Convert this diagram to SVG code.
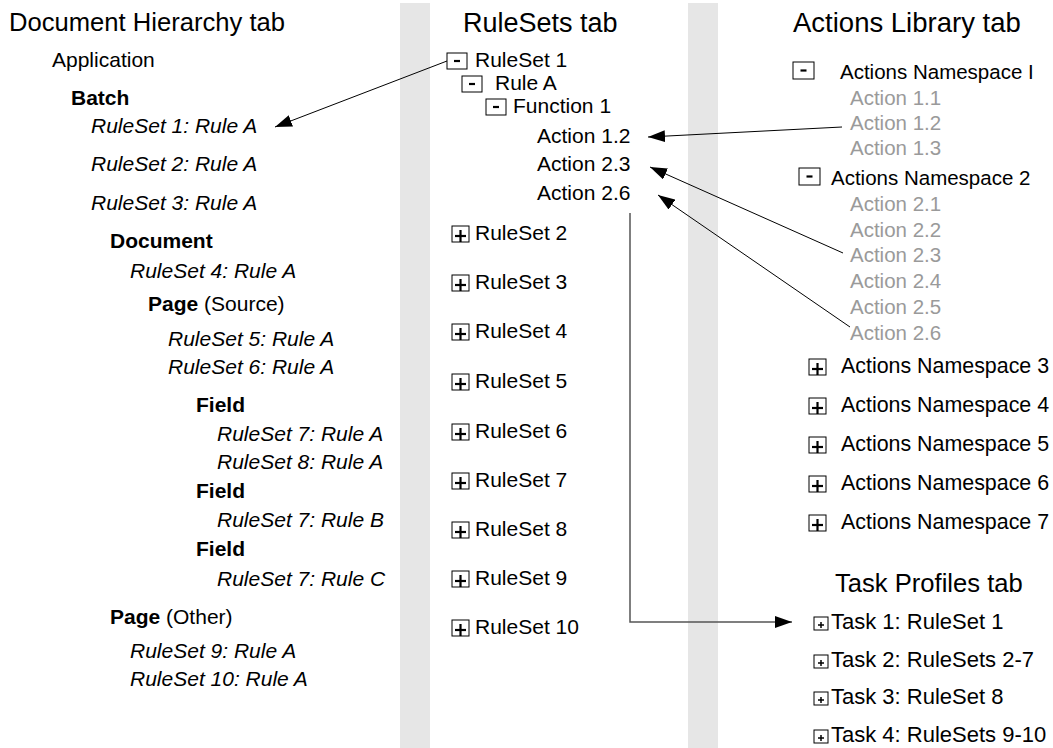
<svg xmlns="http://www.w3.org/2000/svg" width="1053" height="748" viewBox="0 0 1053 748">
<style>
text{font-family:"Liberation Sans",Arial,sans-serif;font-size:21px;fill:#000}
.title{font-size:25.6px}
.it{font-style:italic}
.b{font-weight:bold}
.sm{font-size:20.5px}
.task{font-size:22px}
.gray{fill:#9a9a9a;font-size:20.5px}
.box{fill:#fff;stroke:#000;stroke-width:1}
.sign{stroke:#000;stroke-width:2.2;fill:none}
.conn{stroke:#000;stroke-width:1;fill:none}
.conn2{stroke:#555;stroke-width:1.5;fill:none}
.band{fill:#e6e6e6}
</style>
<defs>
<marker id="ah" markerUnits="userSpaceOnUse" markerWidth="18" markerHeight="12" viewBox="0 0 18 12" refX="17" refY="6" orient="auto">
<path d="M0,0 L17,6 L0,12 Z" fill="#000"/>
</marker>
<g id="minus"><rect class="box" x="0" y="0" width="20" height="16"/><line class="sign" x1="7" y1="8" x2="13" y2="8"/></g>
<g id="minusW"><rect class="box" x="0" y="0" width="21" height="17"/><line class="sign" x1="7.5" y1="8.5" x2="13.5" y2="8.5"/></g>
<g id="plus"><rect class="box" x="0" y="0" width="17" height="16"/><line class="sign" x1="3" y1="10" x2="14" y2="10"/><line class="sign" x1="8.5" y1="4" x2="8.5" y2="16"/></g>
<g id="plusS"><rect class="box" x="0" y="0" width="14" height="13"/><line stroke="#000" stroke-width="1.5" x1="4" y1="8" x2="10" y2="8"/><line stroke="#000" stroke-width="1.5" x1="7" y1="5" x2="7" y2="11"/></g>
</defs>
<rect width="1053" height="748" fill="#fff"/>
<rect class="band" x="400" y="3" width="30" height="745"/>
<rect class="band" x="688" y="3" width="30" height="745"/>

<g id="doc-hierarchy">
<text class="title" x="9" y="31">Document Hierarchy tab</text>
<text x="52" y="67">Application</text>
<text class="b" x="71" y="105">Batch</text>
<text class="it" x="91" y="133">RuleSet 1: Rule A</text>
<text class="it" x="91" y="171">RuleSet 2: Rule A</text>
<text class="it" x="91" y="210">RuleSet 3: Rule A</text>
<text class="b" x="110" y="248">Document</text>
<text class="it" x="130" y="278">RuleSet 4: Rule A</text>
<text x="148" y="311"><tspan class="b">Page</tspan> (Source)</text>
<text class="it" x="168" y="346">RuleSet 5: Rule A</text>
<text class="it" x="168" y="374">RuleSet 6: Rule A</text>
<text class="b" x="196" y="412">Field</text>
<text class="it" x="217" y="441">RuleSet 7: Rule A</text>
<text class="it" x="217" y="469">RuleSet 8: Rule A</text>
<text class="b" x="196" y="498">Field</text>
<text class="it" x="217" y="527">RuleSet 7: Rule B</text>
<text class="b" x="196" y="556">Field</text>
<text class="it" x="217" y="586">RuleSet 7: Rule C</text>
<text x="110" y="624"><tspan class="b">Page</tspan> (Other)</text>
<text class="it" x="130" y="658">RuleSet 9: Rule A</text>
<text class="it" x="130" y="686">RuleSet 10: Rule A</text>
</g>

<g id="rulesets">
<text class="title" x="463" y="32" style="font-size:27px">RuleSets tab</text>
<use href="#minus" x="447" y="53"/><text x="475" y="67">RuleSet 1</text>
<use href="#minus" x="462" y="76"/><text x="495" y="90">Rule A</text>
<use href="#minus" x="486" y="99"/><text x="513" y="113">Function 1</text>
<text x="537" y="143">Action 1.2</text>
<text x="537" y="171">Action 2.3</text>
<text x="537" y="200">Action 2.6</text>
<use href="#plus" x="452" y="226"/><text x="475" y="240">RuleSet 2</text>
<use href="#plus" x="452" y="275"/><text x="475" y="289">RuleSet 3</text>
<use href="#plus" x="452" y="324"/><text x="475" y="338">RuleSet 4</text>
<use href="#plus" x="452" y="374"/><text x="475" y="388">RuleSet 5</text>
<use href="#plus" x="452" y="424"/><text x="475" y="438">RuleSet 6</text>
<use href="#plus" x="452" y="473"/><text x="475" y="487">RuleSet 7</text>
<use href="#plus" x="452" y="522"/><text x="475" y="536">RuleSet 8</text>
<use href="#plus" x="452" y="571"/><text x="475" y="585">RuleSet 9</text>
<use href="#plus" x="452" y="620"/><text x="475" y="634">RuleSet 10</text>
</g>

<g id="actions-library">
<text class="title" x="793" y="32" style="font-size:27.5px">Actions Library tab</text>
<use href="#minusW" x="793" y="62"/><text class="sm" x="840" y="79">Actions Namespace I</text>
<text class="gray" x="850" y="105">Action 1.1</text>
<text class="gray" x="850" y="130">Action 1.2</text>
<text class="gray" x="850" y="155">Action 1.3</text>
<use href="#minusW" x="799" y="168"/><text class="sm" x="831" y="185">Actions Namespace 2</text>
<text class="gray" x="850" y="211">Action 2.1</text>
<text class="gray" x="850" y="237">Action 2.2</text>
<text class="gray" x="850" y="262">Action 2.3</text>
<text class="gray" x="850" y="288">Action 2.4</text>
<text class="gray" x="850" y="314">Action 2.5</text>
<text class="gray" x="850" y="340">Action 2.6</text>
<use href="#plus" x="809" y="359"/><text x="841" y="373" style="font-size:21.4px">Actions Namespace 3</text>
<use href="#plus" x="809" y="398"/><text x="841" y="412" style="font-size:21.4px">Actions Namespace 4</text>
<use href="#plus" x="809" y="437"/><text x="841" y="451" style="font-size:21.4px">Actions Namespace 5</text>
<use href="#plus" x="809" y="476"/><text x="841" y="490" style="font-size:21.4px">Actions Namespace 6</text>
<use href="#plus" x="809" y="515"/><text x="841" y="529" style="font-size:21.4px">Actions Namespace 7</text>
</g>

<g id="task-profiles">
<text class="title" x="835" y="592">Task Profiles tab</text>
<use href="#plusS" x="814" y="617"/><text class="task" x="831" y="629">Task 1: RuleSet 1</text>
<use href="#plusS" x="814" y="655"/><text class="task" x="831" y="667">Task 2: RuleSets 2-7</text>
<use href="#plusS" x="814" y="692"/><text class="task" x="831" y="704">Task 3: RuleSet 8</text>
<use href="#plusS" x="814" y="730"/><text class="task" x="831" y="742">Task 4: RuleSets 9-10</text>
</g>

<g id="connectors">
<line class="conn" x1="447" y1="61" x2="275" y2="127" marker-end="url(#ah)"/>
<line class="conn" x1="842" y1="127" x2="648" y2="137" marker-end="url(#ah)"/>
<line class="conn" x1="843" y1="253" x2="650" y2="167" marker-end="url(#ah)"/>
<line class="conn" x1="850" y1="327" x2="658" y2="195" marker-end="url(#ah)"/>
<polyline class="conn2" points="630,213 630,622 792,622" marker-end="url(#ah)"/>
</g>
</svg>
